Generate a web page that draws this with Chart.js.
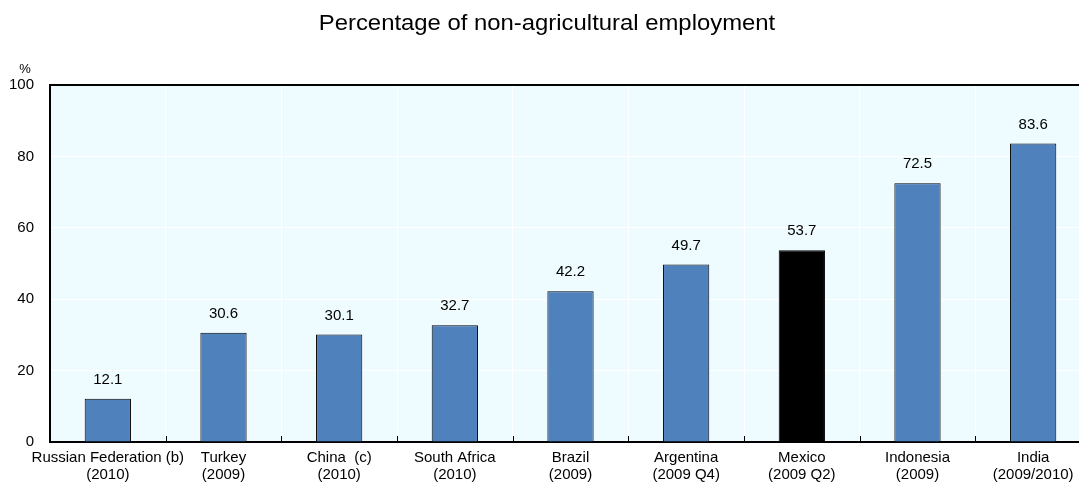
<!DOCTYPE html>
<html>
<head>
<meta charset="utf-8">
<script src="https://cdn.jsdelivr.net/npm/chart.js@4/dist/chart.umd.min.js"></script>
<style>
  html, body { margin: 0; padding: 0; background: #ffffff; overflow: hidden; }
  #wrap { position: relative; width: 1092px; height: 487px; }
</style>
</head>
<body>
<div id="wrap"><canvas id="c"></canvas></div>
<script>
const chartTitle = 'Percentage of non-agricultural employment';
const unitLabel = '%';
const categories = [
  ['Russian Federation (b)', '(2010)'],
  ['Turkey', '(2009)'],
  ['China  (c)', '(2010)'],
  ['South Africa', '(2010)'],
  ['Brazil', '(2009)'],
  ['Argentina', '(2009 Q4)'],
  ['Mexico', '(2009 Q2)'],
  ['Indonesia', '(2009)'],
  ['India', '(2009/2010)']
];
const values = [12.1, 30.6, 30.1, 32.7, 42.2, 49.7, 53.7, 72.5, 83.6];
const highlight = [false, false, false, false, false, false, true, false, false];
const yTicks = [0, 20, 40, 60, 80, 100];

const FONT = "'Liberation Sans', Arial, sans-serif";
const BLUE = '#4F81BD';
const PLOTBG = '#EFFCFF';

const framePlugin = {
  id: 'frame',
  beforeDraw(chart) {
    const { ctx, chartArea: a } = chart;
    ctx.save();
    ctx.fillStyle = PLOTBG;
    ctx.fillRect(a.left, a.top, a.right - a.left, a.bottom - a.top);
    ctx.restore();
  },
  afterDatasetsDraw(chart) {
    const { ctx, chartArea: a } = chart;
    const xs = chart.scales.x;
    ctx.save();
    // top frame line
    ctx.strokeStyle = '#000';
    ctx.lineWidth = 2;
    ctx.beginPath();
    ctx.moveTo(a.left, a.top);
    ctx.lineTo(a.right, a.top);
    ctx.stroke();
    // small ticks at category boundaries
    ctx.lineWidth = 1;
    for (let i = 0; i < categories.length - 1; i++) {
      const b = Math.round((xs.getPixelForTick(i) + xs.getPixelForTick(i + 1)) / 2) + 0.5;
      ctx.beginPath();
      ctx.moveTo(b, a.bottom);
      ctx.lineTo(b, a.bottom - 6);
      ctx.stroke();
    }
    // value labels
    const meta = chart.getDatasetMeta(0);
    ctx.fillStyle = '#000';
    ctx.font = '15px ' + FONT;
    ctx.textAlign = 'center';
    ctx.textBaseline = 'alphabetic';
    meta.data.forEach((bar, i) => {
      ctx.fillText(values[i].toFixed(1), bar.x, bar.y - 15);
    });
    // title (slightly widened, as in the reference)
    ctx.save();
    ctx.translate(547, 30);
    ctx.scale(1.085, 1);
    ctx.font = '22px ' + FONT;
    ctx.fillText(chartTitle, 0, 0);
    ctx.restore();
    // unit
    ctx.font = '13px ' + FONT;
    ctx.fillText(unitLabel, 25, 73);
    ctx.restore();
  }
};

new Chart(document.getElementById('c'), {
  type: 'bar',
  data: {
    labels: categories,
    datasets: [{
      data: values,
      backgroundColor: values.map((v, i) => highlight[i] ? '#000000' : BLUE),
      borderColor: '#000000',
      borderWidth: 1,
      barPercentage: 0.4,
      categoryPercentage: 1.0
    }]
  },
  options: {
    responsive: true,
    maintainAspectRatio: false,
    animation: false,
    layout: { padding: { top: 85, right: 1, left: 0, bottom: 0 } },
    plugins: { legend: { display: false }, tooltip: { enabled: false }, title: { display: false } },
    scales: {
      x: {
        offset: true,
        afterFit: s => { s.height = 45; },
        grid: { color: '#ffffff', lineWidth: 1, offset: true, drawTicks: false },
        border: { display: true, color: '#000000', width: 2 },
        ticks: {
          color: '#000',
          font: { family: FONT, size: 15, lineHeight: 1.1 },
          padding: 8,
          maxRotation: 0,
          autoSkip: false
        }
      },
      y: {
        min: 0,
        max: 100,
        afterFit: s => { s.width = 50; },
        afterBuildTicks: s => { s.ticks = yTicks.map(v => ({ value: v })); },
        grid: { color: '#ffffff', lineWidth: 1, drawTicks: false },
        border: { display: true, color: '#000000', width: 2 },
        ticks: {
          color: '#000',
          font: { family: FONT, size: 15 },
          padding: 16
        }
      }
    }
  },
  plugins: [framePlugin]
});
</script>
</body>
</html>
